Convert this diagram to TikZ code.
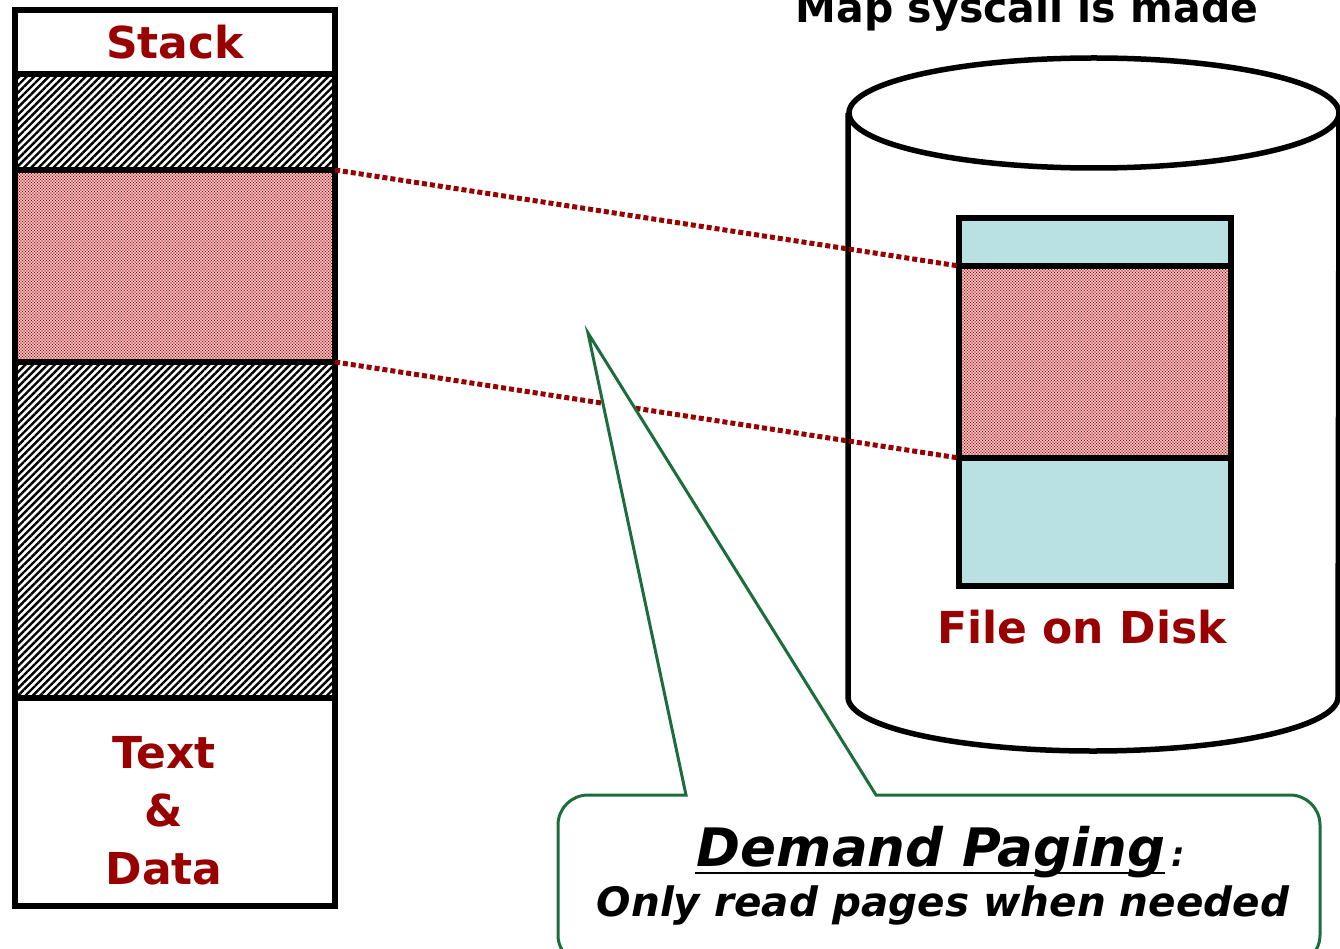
\documentclass[tikz,border=0pt]{standalone}
\usepackage{fontspec}
\setmainfont{DejaVu Sans}
\usetikzlibrary{patterns.meta,calc}
\definecolor{darkred}{HTML}{990000}
\definecolor{dotred}{HTML}{B40000}
\definecolor{diskblue}{HTML}{B9E0E3}
\definecolor{calloutgreen}{HTML}{1B6E3B}
\begin{document}
\begin{tikzpicture}[x=1pt,y=-1pt,
  sect/.style={draw=black,line width=6pt,rectangle,inner sep=0pt,outer sep=0pt,
    anchor=north west,minimum width=320pt},
  fsect/.style={sect,minimum width=272pt,fill=diskblue},
  hatched/.style={preaction={fill=white},
    pattern={Lines[angle=45,distance=5.2pt,line width=2.4pt]},pattern color=black},
  speckled/.style={preaction={fill=white},
    preaction={pattern={Dots[radius=0.95pt,distance=3pt]},pattern color=dotred},
    pattern={Dots[radius=0.95pt,distance=3pt,xshift=1.5pt,yshift=1.5pt]},pattern color=dotred},
  redlabel/.style={text=darkred,font=\fontsize{44}{58}\selectfont\bfseries,align=center},
  maplink/.style={draw=darkred,line width=5pt,dash pattern=on 5pt off 3pt},
  callout/.style={draw=calloutgreen,line width=3pt,fill=white},
]
\useasboundingbox (0,0) rectangle (1340,949);
\clip (0,0) rectangle (1340,949);

% process address space
\node[sect,minimum height=63.5pt,redlabel] (stack) at (15,10.5) {Stack};
\node[sect,minimum height=96pt,hatched] (gapA) at (15,74) {};
\node[sect,minimum height=192pt,speckled] (mapA) at (15,170) {};
\node[sect,minimum height=336pt,hatched] (gapB) at (15,362) {};
\node[sect,minimum height=208pt] (code) at (15,698) {};
\node[redlabel,anchor=center] (codelbl) at (164,811) {Text\\\&\\Data};

% disk
\draw[line width=5.5pt,fill=white] (848,113) -- (848,697)
  arc[start angle=180,end angle=0,x radius=245,y radius=54] -- (1339,113);
\draw[line width=5.5pt,fill=white] (1094,113) ellipse [x radius=245,y radius=55];

% file on disk
\node[fsect,minimum height=48pt] (ftop) at (959,218) {};
\node[sect,minimum width=272pt,minimum height=192pt,speckled] (fmap) at (959,266) {};
\node[fsect,minimum height=128pt] (fbot) at (959,458) {};
\node[redlabel,anchor=base] (flbl) at (1082,643) {File on Disk};

% mapping of the region onto the file
\draw[maplink] (mapA.north east) -- (fmap.north west);
\draw[maplink] (mapA.south east) -- (fmap.south west);

% title, running off the top edge
\node[font=\fontsize{41}{41}\selectfont\bfseries,anchor=base] (title) at (1027,23) {Map syscall is made};

% callout
\coordinate (tip) at (588,333);
\draw[callout] (686,795) -- (tip) -- (876,795) -- (1290,795)
  arc[start angle=270,end angle=360,radius=30] -- (1320,935)
  arc[start angle=0,end angle=90,radius=30] -- (588,965)
  arc[start angle=90,end angle=180,radius=30] -- (558,825)
  arc[start angle=180,end angle=270,radius=30] -- cycle;
\node[font=\fontsize{53}{53}\selectfont\bfseries\itshape,anchor=base,inner sep=0pt] (dem) at (931,866) {Demand Paging};
\node[font=\fontsize{34}{34}\selectfont\bfseries\itshape,anchor=base west,inner sep=0pt] (colon) at ($(dem.base east)+(6,0)$) {:};
\draw[line width=2.5pt] ($(dem.base west)+(-2,7)$) -- ($(dem.base east)+(0,7)$);
\node[font=\fontsize{40.5}{40.5}\selectfont\bfseries\itshape,anchor=base,inner sep=0pt] (only) at (943,916) {Only read pages when needed};
\end{tikzpicture}
\end{document}
